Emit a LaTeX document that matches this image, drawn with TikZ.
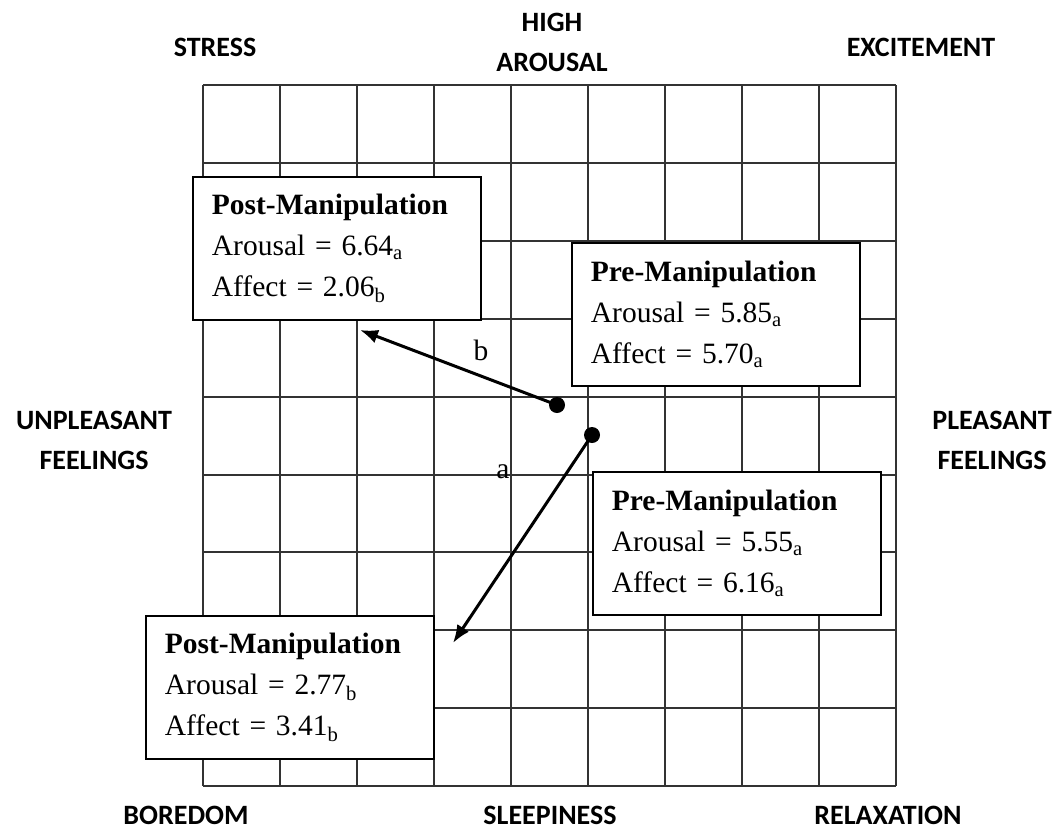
\documentclass[tikz,border=0pt]{standalone}
\usepackage{fontspec}
\setmainfont{Liberation Serif}
\newfontfamily\labelfont{Carlito}
\usetikzlibrary{arrows.meta}

\begin{document}
\begin{tikzpicture}[
    x=1pt, y=-1pt,
    >={Latex[length=18pt,width=14pt]},
    gridline/.style={draw=black!80, line width=2pt},
    axislabel/.style={font=\labelfont\bfseries\fontsize{28}{40}\selectfont,
        align=center, inner sep=0pt},
    resultbox/.style={draw=black, line width=1.8pt, fill=white, anchor=north west,
        minimum width=288pt, minimum height=143pt, text width=250pt,
        inner xsep=19pt, inner ysep=0pt, align=left,
        font=\fontsize{29.5}{41}\selectfont},
    moveline/.style={draw=black, line width=3pt},
    startdot/.style={circle, fill=black, inner sep=0pt, minimum size=16pt},
    pathlabel/.style={font=\fontsize{29.5}{34}\selectfont, inner sep=0pt},
]
\useasboundingbox (0,0) rectangle (1060,830);

% 9 x 9 grid
\foreach \i in {0,...,9} {
    \draw[gridline] ({203+77*\i},85) -- ({203+77*\i},786);
    \draw[gridline] (203,{85+77.9*\i}) -- (896,{85+77.9*\i});
}

% corner and side labels
\node[axislabel] (stress) at (215,47) {STRESS};
\node[axislabel] (higharousal) at (552,42) {HIGH\\AROUSAL};
\node[axislabel] (excitement) at (921,47) {EXCITEMENT};
\node[axislabel] (unpleasant) at (94,440) {UNPLEASANT\\FEELINGS};
\node[axislabel] (pleasant) at (992,440) {PLEASANT\\FEELINGS};
\node[axislabel] (boredom) at (186,815) {BOREDOM};
\node[axislabel] (sleepiness) at (550,815) {SLEEPINESS};
\node[axislabel] (relaxation) at (888,815) {RELAXATION};

% result boxes
\node[resultbox] (postb) at (192,176)
    {\textbf{Post-Manipulation}\\Arousal = 6.64\textsubscript{a}\\Affect = 2.06\textsubscript{b}};
\node[resultbox] (preb) at (571,242)
    {\textbf{Pre-Manipulation}\\Arousal = 5.85\textsubscript{a}\\Affect = 5.70\textsubscript{a}};
\node[resultbox] (prea) at (592,471)
    {\textbf{Pre-Manipulation}\\Arousal = 5.55\textsubscript{a}\\Affect = 6.16\textsubscript{a}};
\node[resultbox] (posta) at (145,615)
    {\textbf{Post-Manipulation}\\Arousal = 2.77\textsubscript{b}\\Affect = 3.41\textsubscript{b}};

% shifts
\node[startdot] (startb) at (557,405) {};
\node[startdot] (starta) at (592,435) {};
\coordinate (endb) at (360,330);
\coordinate (enda) at (453,643);
\draw[moveline, ->] (startb.center) -- (endb);
\draw[moveline, ->] (starta.center) -- (enda);
\node[pathlabel] (labelb) at (481,350) {b};
\node[pathlabel] (labela) at (503,472) {a};
\end{tikzpicture}
\end{document}
